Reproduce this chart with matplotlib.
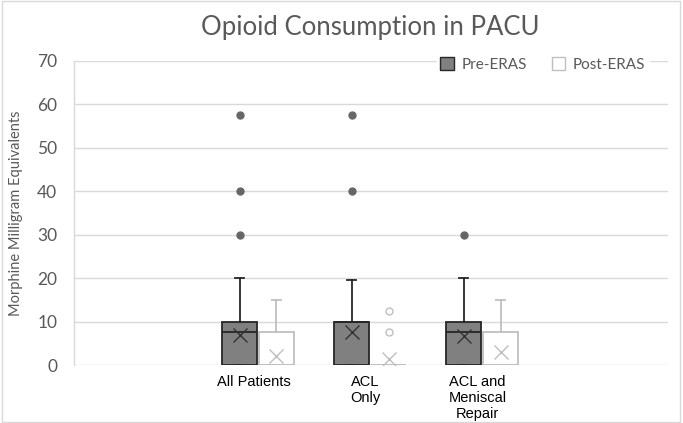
import matplotlib
matplotlib.use("Agg")
import matplotlib.pyplot as plt
from matplotlib.patches import Rectangle, Patch

categories = ["All Patients", "ACL\nOnly", "ACL and\nMeniscal\nRepair"]
series = ["Pre-ERAS", "Post-ERAS"]

# Pre-ERAS box statistics
pre_q1 = [0, 0, 0]
pre_med = [7.5, 10, 7.5]
pre_q3 = [10, 10, 10]
pre_whislo = [0, 0, 0]
pre_whishi = [20, 19.5, 20]
pre_mean = [7, 7.5, 6.8]
pre_fliers = [[30, 40, 57.5], [40, 57.5], [30]]

# Post-ERAS box statistics
post_q1 = [0, 0, 0]
post_med = [0, 0, 0]
post_q3 = [7.5, 0, 7.5]
post_whislo = [0, 0, 0]
post_whishi = [15, 0, 15]
post_mean = [2.0, 1.4, 3.0]
post_fliers = [[], [7.5, 12.5], []]

yticks = [0, 10, 20, 30, 40, 50, 60, 70]

fig = plt.figure(figsize=(6.83, 4.23), dpi=100)
ax = fig.add_axes([0.1083, 0.137, 0.8697, 0.719])

grey_text = "#595959"

def stats(q1, med, q3, lo, hi, mean, fl):
    return [dict(q1=a, med=b, q3=c, whislo=d, whishi=e, mean=f, fliers=g, label="")
            for a, b, c, d, e, f, g in zip(q1, med, q3, lo, hi, mean, fl)]

pos = list(range(1, len(categories) + 1))
off = 0.165
w = 0.31

pre_stats = stats(pre_q1, pre_med, pre_q3, pre_whislo, pre_whishi, pre_mean, pre_fliers)
post_stats = stats(post_q1, post_med, post_q3, post_whislo, post_whishi, post_mean, post_fliers)

dark = "#262626"
light = "#bfbfbf"

ax.bxp(pre_stats, positions=[p - off for p in pos], widths=w, patch_artist=True,
       showmeans=True, showcaps=True,
       boxprops=dict(facecolor="#808080", edgecolor=dark, linewidth=1.3),
       medianprops=dict(color=dark, linewidth=1.3),
       whiskerprops=dict(color=dark, linewidth=1.3),
       capprops=dict(color=dark, linewidth=1.3),
       capwidths=0.08,
       meanprops=dict(marker="x", markeredgecolor="#333333", markersize=10, markeredgewidth=1.0),
       flierprops=dict(marker="o", markerfacecolor="#666666", markeredgecolor="#666666", markersize=5),
       zorder=3)

ax.bxp(post_stats, positions=[p + off for p in pos], widths=w, patch_artist=True,
       showmeans=True, showcaps=True,
       boxprops=dict(facecolor="white", edgecolor=light, linewidth=1.3),
       medianprops=dict(color=light, linewidth=1.3),
       whiskerprops=dict(color=light, linewidth=1.3),
       capprops=dict(color=light, linewidth=1.3),
       capwidths=0.08,
       meanprops=dict(marker="x", markeredgecolor=light, markersize=10, markeredgewidth=1.0),
       flierprops=dict(marker="o", markerfacecolor="white", markeredgecolor=light, markersize=5),
       zorder=3)

ax.set_xlim(pos[0] - 1.643, pos[-1] + 1.66)
ax.set_ylim(0, 70)
ax.set_yticks(yticks)
ax.set_yticklabels([str(t) for t in yticks], fontfamily="Lato", fontsize=12.5, color=grey_text)
ax.set_xticks([p - 0.04 for p in pos])
ax.set_xticklabels(categories, fontfamily="Liberation Sans", fontsize=10.5, color="black", linespacing=1.2)
ax.tick_params(axis="both", length=0, pad=7)
ax.tick_params(axis="y", pad=12)
ax.yaxis.grid(True, color="#d9d9d9", linewidth=1.0)
ax.set_axisbelow(True)
for s in ["top", "right", "bottom"]:
    ax.spines[s].set_visible(False)
ax.spines["left"].set_color("#d9d9d9")
ax.spines["left"].set_linewidth(1.0)

ax.set_ylabel("Morphine Milligram Equivalents", fontfamily="Lato", fontsize=10.5, color=grey_text, labelpad=10)

fig.text(0.542, 0.935, "Opioid Consumption in PACU", ha="center", va="center",
         fontfamily="Lato", fontsize=18.5, color=grey_text)

handles = [Patch(facecolor="#808080", edgecolor=dark, label=series[0]),
           Patch(facecolor="white", edgecolor=light, label=series[1])]
leg = fig.legend(handles=handles, loc="center", bbox_to_anchor=(0.795, 0.848), ncol=2,
                 frameon=True, fancybox=False, edgecolor="white", facecolor="white", framealpha=1,
                 prop=dict(family="Lato", size=11), handlelength=0.9, handleheight=0.9,
                 handletextpad=0.5, columnspacing=1.6, borderpad=0.2)
for t in leg.get_texts():
    t.set_color(grey_text)

fig.patches.append(Rectangle((0.003, 0.003), 0.992, 0.994, transform=fig.transFigure,
                             fill=False, edgecolor="#d9d9d9", linewidth=1.0))

fig.savefig("out.png", dpi=100)
